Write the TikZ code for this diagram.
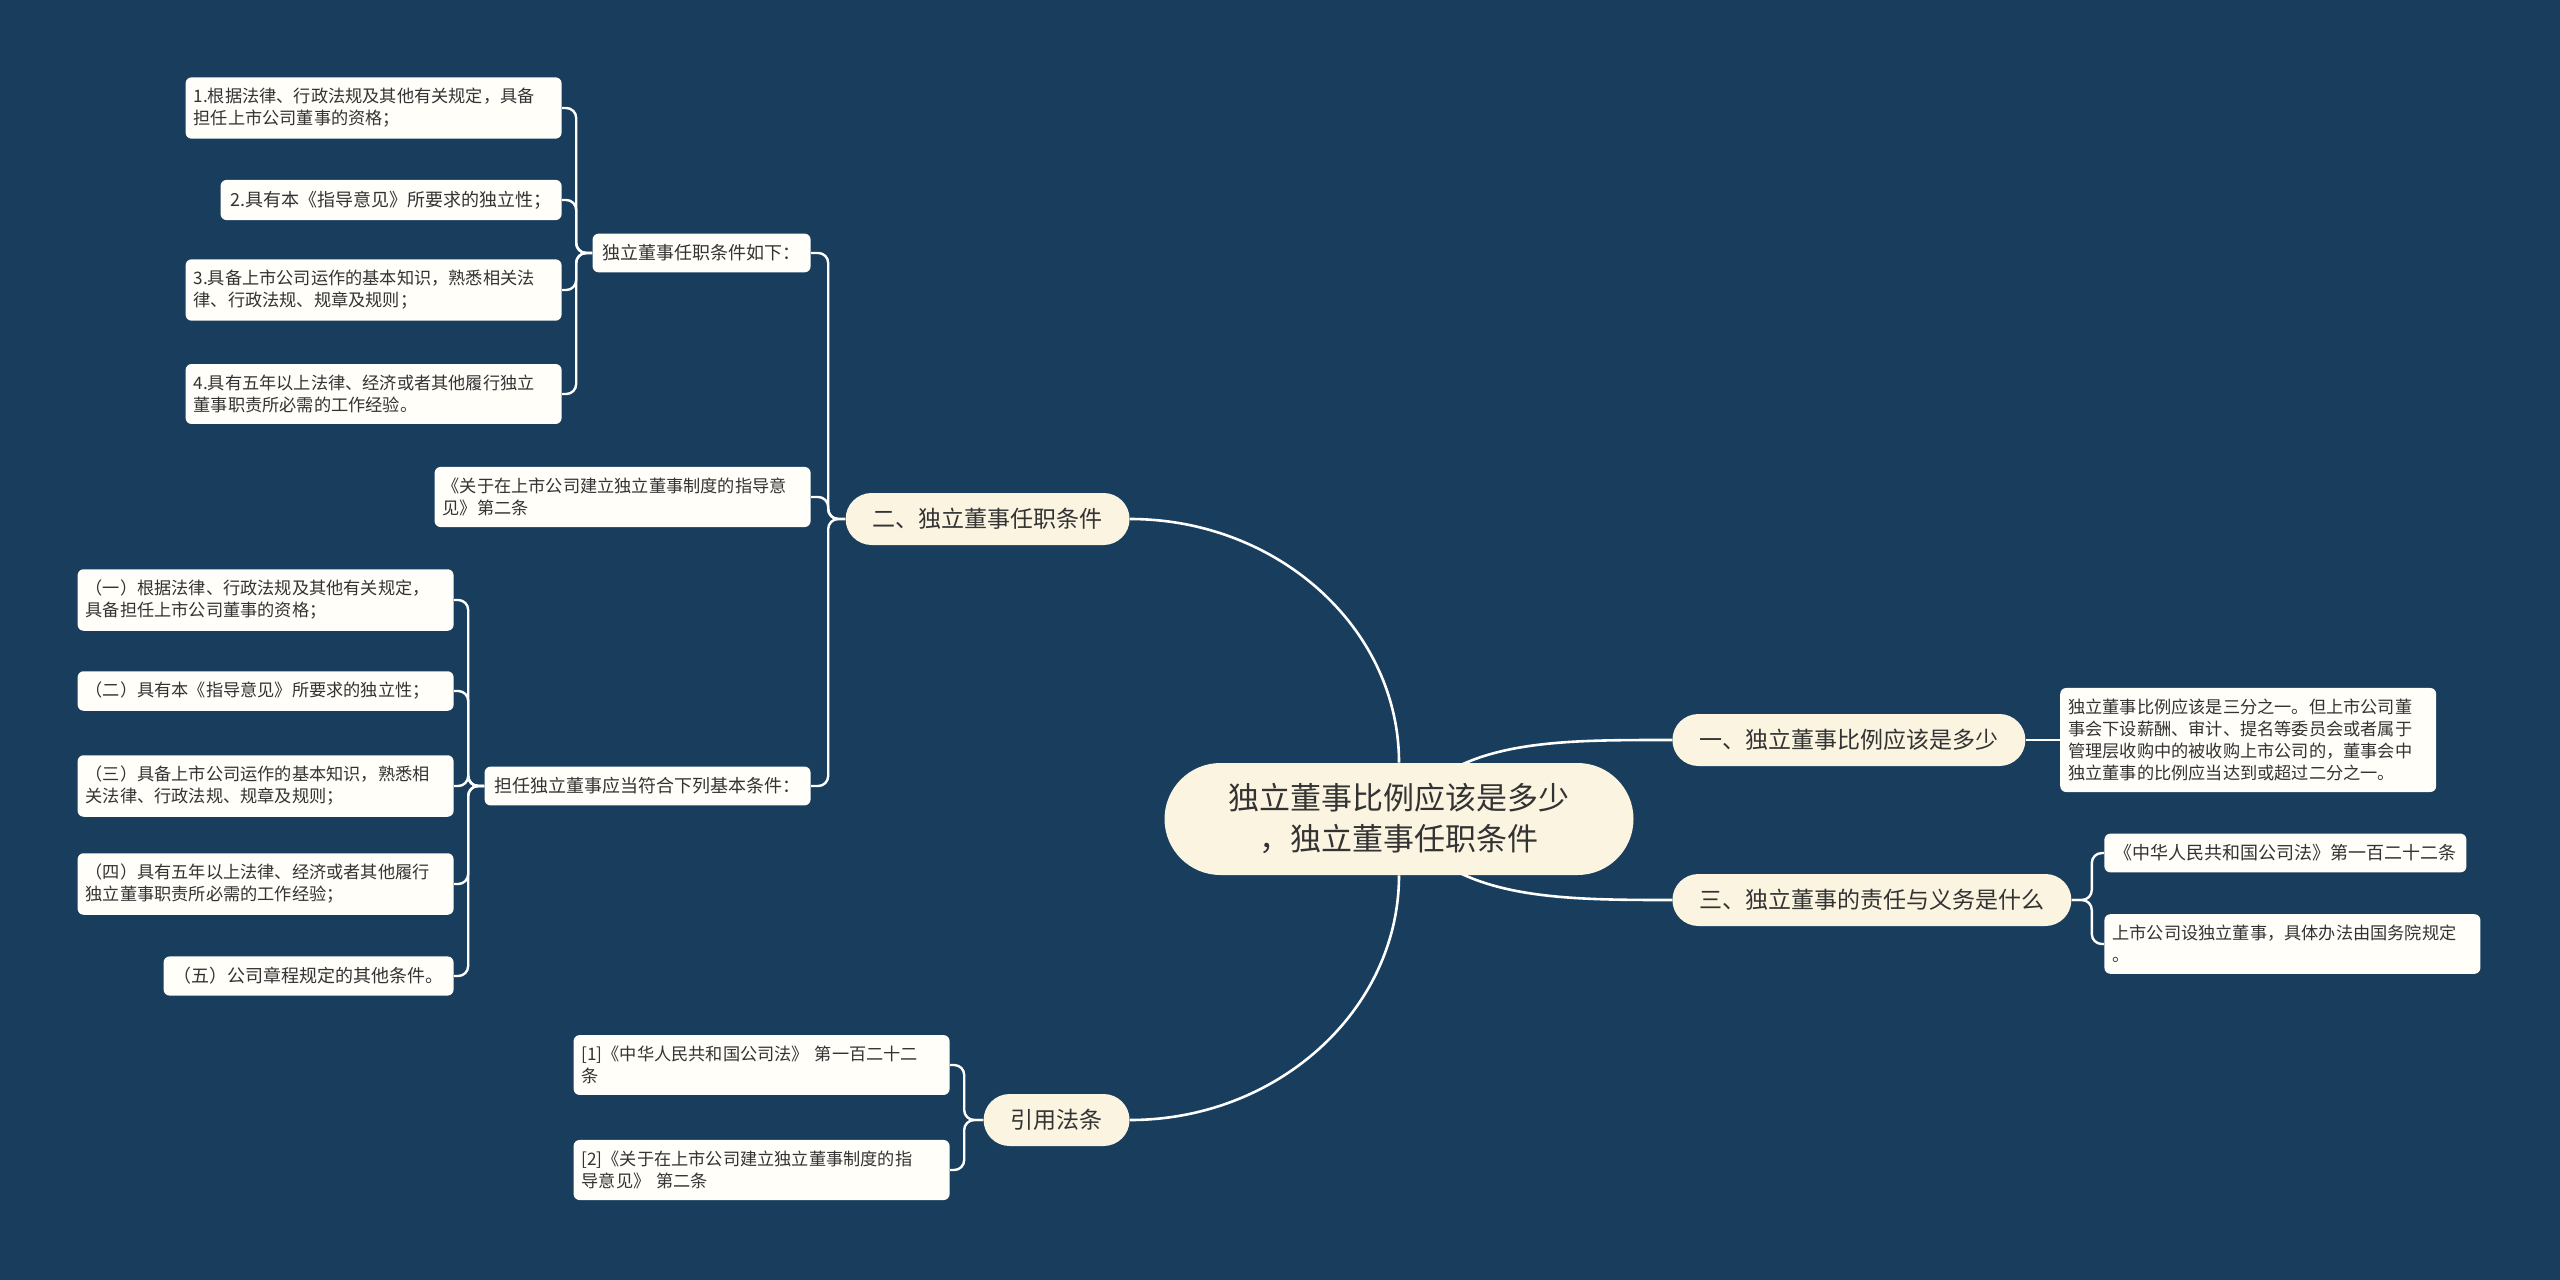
\documentclass[tikz,border=0pt]{standalone}
\usepackage{fontspec}
\setmainfont{Noto Sans CJK SC}
\usepackage{tikz}
\usetikzlibrary{positioning}

\definecolor{bgnavy}{RGB}{24,61,93}
\definecolor{topiccream}{RGB}{250,244,225}
\definecolor{leafwhite}{RGB}{255,254,249}
\definecolor{inkgray}{RGB}{51,51,51}

\pgfdeclarelayer{bg}
\pgfdeclarelayer{links}
\pgfsetlayers{bg,links,main}

\begin{document}
\begin{tikzpicture}[
    x=0.5pt, y=-0.5pt,
    myroot/.style={fill=topiccream, text=inkgray, rounded corners=28pt, align=center, minimum height=56pt, inner xsep=32pt, font=\fontsize{15.5}{20.5}\selectfont},
    mytopic/.style={fill=topiccream, text=inkgray, rounded corners=13pt, minimum height=26pt, inner xsep=13.5pt, font=\fontsize{11.5}{14}\selectfont},
    myleaf/.style={fill=leafwhite, text=inkgray, rounded corners=3pt, align=left, inner xsep=5pt, inner ysep=5.5pt, font=\fontsize{9}{11}\selectfont},
    wide/.style={text width=180pt, inner xsep=4pt, font=\fontsize{8.6}{11}\selectfont},
    myedge/.style={draw=white, line width=1.3pt},
    mylink/.style={draw=white, line width=1.2pt, rounded corners=5pt}
]
\begin{pgfonlayer}{bg}
\fill[bgnavy] (0,0) rectangle (2560,1280);
\end{pgfonlayer}
\useasboundingbox (0,0) rectangle (2560,1280);

\node[myroot] (root) at (1399,819) {独立董事比例应该是多少\\，独立董事任职条件};
\node[mytopic, anchor=east] (er) at (1130,519) {二、独立董事任职条件};
\node[mytopic, anchor=west] (yi) at (1672,740) {一、独立董事比例应该是多少};
\node[mytopic, anchor=west] (san) at (1672,900) {三、独立董事的责任与义务是什么};
\node[mytopic, anchor=east] (yy) at (1130,1120) {引用法条};

\node[myleaf, anchor=east] (tj) at (811,253) {独立董事任职条件如下：};
\node[myleaf, wide, anchor=east] (zd) at (811,497) {《关于在上市公司建立独立董事制度的指导意\\见》第二条};
\node[myleaf, anchor=east] (dr) at (811,786) {担任独立董事应当符合下列基本条件：};

\node[myleaf, wide, anchor=east] (tj1) at (562,108) {1.根据法律、行政法规及其他有关规定，具备\\担任上市公司董事的资格；};
\node[myleaf, anchor=east] (tj2) at (562,200) {2.具有本《指导意见》所要求的独立性；};
\node[myleaf, wide, anchor=east] (tj3) at (562,290) {3.具备上市公司运作的基本知识，熟悉相关法\\律、行政法规、规章及规则；};
\node[myleaf, wide, anchor=east] (tj4) at (562,394) {4.具有五年以上法律、经济或者其他履行独立\\董事职责所必需的工作经验。};

\node[myleaf, wide, anchor=east] (dr1) at (454,600) {（一）根据法律、行政法规及其他有关规定，\\具备担任上市公司董事的资格；};
\node[myleaf, wide, anchor=east] (dr2) at (454,691) {（二）具有本《指导意见》所要求的独立性；};
\node[myleaf, wide, anchor=east] (dr3) at (454,786) {（三）具备上市公司运作的基本知识，熟悉相\\关法律、行政法规、规章及规则；};
\node[myleaf, wide, anchor=east] (dr4) at (454,884) {（四）具有五年以上法律、经济或者其他履行\\独立董事职责所必需的工作经验；};
\node[myleaf, anchor=east] (dr5) at (454,976) {（五）公司章程规定的其他条件。};

\node[myleaf, wide, anchor=east] (yy1) at (950,1065) {[1]《中华人民共和国公司法》 第一百二十二\\条};
\node[myleaf, wide, anchor=east] (yy2) at (950,1170) {[2]《关于在上市公司建立独立董事制度的指\\导意见》 第二条};

\node[myleaf, wide, right=17pt of yi] (yi1) {独立董事比例应该是三分之一。但上市公司董\\事会下设薪酬、审计、提名等委员会或者属于\\管理层收购中的被收购上市公司的，董事会中\\独立董事的比例应当达到或超过二分之一。};
\node[myleaf, anchor=west] (san1) at (2104,853) {《中华人民共和国公司法》第一百二十二条};
\node[myleaf, wide, anchor=west] (san2) at (2104,944) {上市公司设独立董事，具体办法由国务院规定\\。};

\begin{pgfonlayer}{links}
\draw[myedge] (root.north) .. controls +(0,-134) and +(148,0) .. (er.east);
\draw[myedge] (root.south) .. controls +(0,134) and +(148,0) .. (yy.east);
\draw[myedge] (root.center) .. controls +(50,-80) and +(-120,0) .. (yi.west);
\draw[myedge] (root.center) .. controls +(50,80) and +(-120,0) .. (san.west);

\foreach \kid in {tj,zd,dr} \draw[mylink] (er.west) -- ++(-17,0) |- (\kid.east);
\foreach \kid in {tj1,tj2,tj3,tj4} \draw[mylink] (tj.west) -- ++(-16,0) |- (\kid.east);
\foreach \kid in {dr1,dr2,dr3,dr4,dr5} \draw[mylink] (dr.west) -- ++(-16,0) |- (\kid.east);
\foreach \kid in {yy1,yy2} \draw[mylink] (yy.west) -- ++(-19,0) |- (\kid.east);
\draw[mylink] (yi.east) -- (yi1.west);
\foreach \kid in {san1,san2} \draw[mylink] (san.east) -- ++(20,0) |- (\kid.west);
\end{pgfonlayer}
\end{tikzpicture}
\end{document}
